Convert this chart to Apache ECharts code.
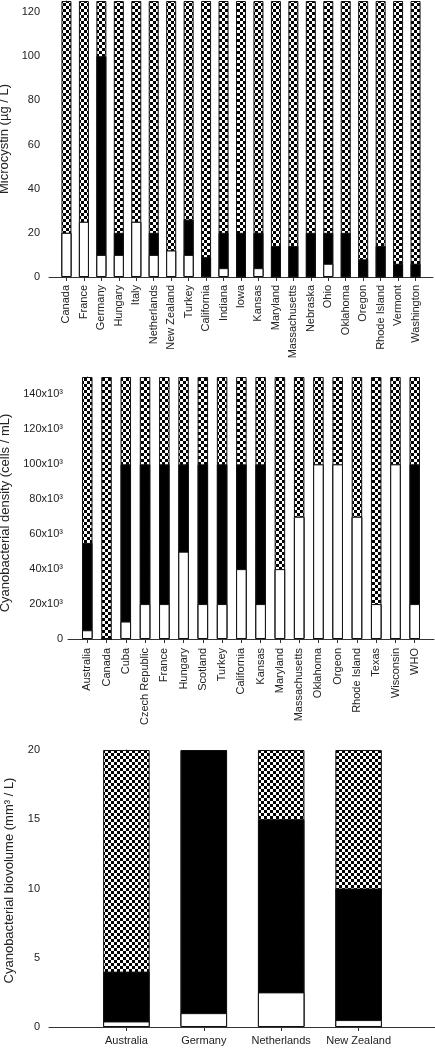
<!DOCTYPE html>
<html><head><meta charset="utf-8">
<script src="https://cdn.jsdelivr.net/npm/echarts@6/dist/echarts.min.js"></script>
<style>html,body{margin:0;padding:0;background:#fff}#c{width:435px;height:1048px}</style>
</head><body><div id="c"></div>
<script>
// Panel 1: Microcystin (µg / L)
const mcCats = ['Canada','France','Germany','Hungary','Italy','Netherlands','New Zealand','Turkey','California','Indiana','Iowa','Kansas','Maryland','Massachusetts','Nebraska','Ohio','Oklahoma','Oregon','Rhode Island','Vermont','Washington'];
const mcLow  = [20,25,10,10,25,10,12,10,0.5,4,0,4,0,0,0,6,0,0,0,0,0];
const mcMed  = [0,0,90,10,0,10,0,16,8.5,16,20,16,14,14,20,14,20,8,14,6,6];
const mcHigh = [105,100,25,105,100,105,113,99,116,105,105,105,111,111,105,105,105,117,111,119,119];
const mcTicks = [0,20,40,60,80,100,120];

// Panel 2: Cyanobacterial density (cells / mL)
const cdCats = ['Australia','Canada','Cuba','Czech Republic','France','Hungary','Scotland','Turkey','California','Kansas','Maryland','Massachusetts','Oklahoma','Orgeon','Rhode Island','Texas','Wisconsin','WHO'];
const cdLow  = [5000,0,10000,20000,20000,50000,20000,20000,40000,20000,40000,70000,100000,100000,70000,20000,100000,20000];
const cdMed  = [50000,0,90000,80000,80000,50000,80000,80000,60000,80000,0,0,0,0,0,0,0,80000];
const cdHigh = [95000,150000,50000,50000,50000,50000,50000,50000,50000,50000,110000,80000,50000,50000,80000,130000,50000,50000];
const cdTicks = [0,20000,40000,60000,80000,100000,120000,140000];

// Panel 3: Cyanobacterial biovolume (mm³ / L)
const bvCats = ['Australia','Germany','Netherlands','New Zealand'];
const bvLow  = [0.4,1,2.5,0.5];
const bvMed  = [3.6,19,12.5,9.5];
const bvHigh = [16,0,5,10];
const bvTicks = [0,5,10,15,20];

const FONT = '"Liberation Sans", Arial, sans-serif';
const TXT = '#222';
const AX = '#333';

function checker(){
  const c = document.createElement('canvas'); c.width = 6; c.height = 6;
  const g = c.getContext('2d');
  g.fillStyle = '#fff'; g.fillRect(0,0,6,6);
  g.fillStyle = '#000'; g.fillRect(0,0,3,3); g.fillRect(3,3,3,3);
  return c;
}
const chk = {image: checker(), repeat: 'repeat'};

function add(a,b){ return a.map((v,i)=>v+b[i]); }
function barSeries(gi, low, med, high, bw){
  const lm = add(low, med), tot = add(lm, high);
  const mk = (vals, color, name) => ({
    type:'bar', name, xAxisIndex:gi, yAxisIndex:gi, barWidth:bw, barGap:'-100%',
    data: vals.map((v,i)=>[i,v]), silent:true,
    itemStyle:{color, borderColor:'#111', borderWidth:1}
  });
  return [mk(tot, chk, 'high'), mk(lm, '#000', 'medium'), mk(low, '#fff', 'low')];
}
function idx(n){ return Array.from({length:n},(_, i)=>i); }
function xAx(gi, cats, rotate, margin){
  const ids = idx(cats.length);
  return {
    gridIndex:gi, type:'value', min:-1, max:cats.length,
    axisLine:{show:true, onZero:false, lineStyle:{color:AX, width:1}},
    axisTick:{show:true, customValues:ids, length:4, lineStyle:{color:AX}},
    axisLabel:{customValues:ids, formatter:v=>cats[Math.round(v)], rotate, margin,
      fontSize:11, color:TXT, fontFamily:FONT},
    splitLine:{show:false}
  };
}
function yAx(gi, max, ticks, name, nameGap, fmt, margin, pad){
  return {
    gridIndex:gi, type:'value', min:0, max,
    name, nameLocation:'middle', nameGap,
    nameTextStyle:{fontSize:13, color:TXT, fontFamily:FONT, padding:pad},
    axisLine:{show:true, lineStyle:{color:AX, width:1}},
    axisTick:{show:true, customValues:ticks, length:4, lineStyle:{color:AX}},
    axisLabel:{customValues:ticks, formatter:fmt, margin, fontSize:11, color:TXT, fontFamily:FONT},
    splitLine:{show:false}
  };
}

const chart = echarts.init(document.getElementById('c'), null, {renderer:'canvas'});
chart.setOption({
  animation:false,
  backgroundColor:'#fff',
  grid:[
    {left:49, top:1, width:384, height:276, containLabel:false, outerBoundsMode:'none'},
    {left:68, top:377, width:366, height:262, containLabel:false, outerBoundsMode:'none'},
    {left:49, top:750, width:387, height:277, containLabel:false, outerBoundsMode:'none'}
  ],
  xAxis:[
    xAx(0, mcCats, 90, 8),
    xAx(1, cdCats, 90, 9),
    xAx(2, bvCats, 0, 8)
  ],
  yAxis:[
    yAx(0, 125, mcTicks, 'Microcystin (µg / L)', 36, v=>String(v), 9, [0,0,0,0]),
    yAx(1, 150000, cdTicks, 'Cyanobacterial density (cells / mL)', 55,
        v=> v===0 ? '0' : (v/1000)+'x10³', 5, [0,10,0,0]),
    yAx(2, 20, bvTicks, 'Cyanobacterial biovolume (mm³ / L)', 33, v=>String(v), 9, [0,0,0,16])
  ],
  series:[
    ...barSeries(0, mcLow, mcMed, mcHigh, 10),
    ...barSeries(1, cdLow, cdMed, cdHigh, 10.5),
    ...barSeries(2, bvLow, bvMed, bvHigh, 46.5)
  ]
});
</script></body></html>
